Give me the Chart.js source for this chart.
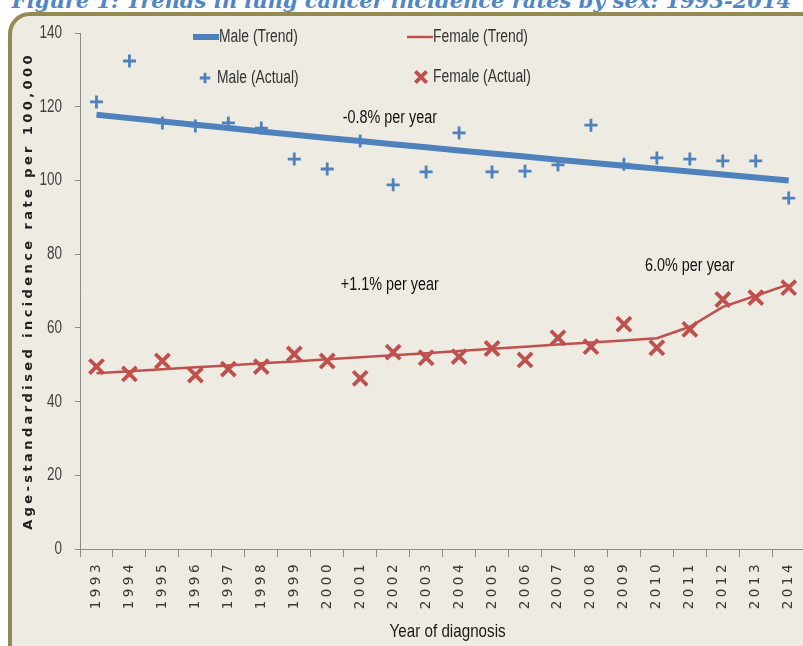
<!DOCTYPE html>
<html>
<head>
<meta charset="utf-8">
<script src="https://cdn.jsdelivr.net/npm/chart.js@4.4.0/dist/chart.umd.min.js"></script>
<style>
  html, body { margin: 0; padding: 0; background: #fff; overflow: hidden; width: 803px; height: 646px; }
  #panel { position: absolute; left: 8px; top: 12px; width: 840px; height: 660px; box-sizing: border-box;
           border: 4px solid #948A54; border-radius: 22px; background: #EEEBE2; }
  #title { position: absolute; left: 0; top: -10px; width: 803px; text-align: center; white-space: nowrap;
           font: italic bold 21px "DejaVu Serif"; line-height: 21px; color: #4F86C6; }
  #wrap { position: absolute; left: 0; top: 0; width: 819px; height: 646px; }
</style>
</head>
<body>
<div id="panel"></div>
<div id="title">Figure 1: Trends in lung cancer incidence rates by sex: 1993-2014</div>
<div id="wrap"><canvas id="chart"></canvas></div>
<script>
const years = ['1993', '1994', '1995', '1996', '1997', '1998', '1999', '2000', '2001', '2002', '2003',
               '2004', '2005', '2006', '2007', '2008', '2009', '2010', '2011', '2012', '2013', '2014'];

const maleActual = [121.3, 132.4, 115.6, 114.8, 115.6, 114.2, 105.8, 103.1, 110.7, 98.8, 102.3,
                    112.9, 102.3, 102.5, 104.2, 115.0, 104.4, 106.1, 105.8, 105.3, 105.3, 95.2];
const maleTrend = [117.8, 116.9, 116.0, 115.1, 114.2, 113.3, 112.4, 111.5, 110.7, 109.8, 109.0,
                   108.1, 107.3, 106.5, 105.6, 104.8, 104.0, 103.2, 102.4, 101.6, 100.8, 100.0];

const femaleActual = [49.5, 47.5, 51.0, 47.2, 48.8, 49.5, 52.9, 51.0, 46.3, 53.4, 51.9,
                      52.2, 54.4, 51.3, 57.3, 54.9, 61.0, 54.6, 59.6, 67.7, 68.2, 70.9];
const femaleTrend = [47.7, 48.2, 48.8, 49.3, 49.8, 50.4, 50.9, 51.5, 52.0, 52.6, 53.1,
                     53.7, 54.3, 54.9, 55.5, 56.0, 56.6, 57.2, 60.3, 65.7, 68.7, 71.8];

const yTicks = [0, 20, 40, 60, 80, 100, 120, 140];

// trend labels: text, position in years (fractional), value
const notes = [
  { text: '-0.8% per year', year: 2001.9, value: 117 },
  { text: '+1.1% per year', year: 2001.9, value: 71.6 },
  { text: '6.0% per year', year: 2011, value: 76.8 }
];

const BLUE = '#4F81BD';
const RED = '#C0504D';

// the original uses a tall narrow face; squeeze Liberation Sans sideways
function squeezed(ctx, text, x, y, size, sx, align) {
  ctx.save();
  ctx.translate(x, y);
  ctx.scale(sx, 1);
  ctx.font = size + 'px "Liberation Sans"';
  ctx.textAlign = align;
  ctx.textBaseline = 'middle';
  ctx.fillText(text, 0, 0);
  ctx.restore();
}

// x labels get letter spacing (drawn after the datasets because ticks.z = 1)
const spacing = {
  id: 'spacing',
  afterDatasetsDraw(chart) { chart.ctx.letterSpacing = '3.5px'; },
  afterDraw(chart) { chart.ctx.letterSpacing = '0px'; }
};

const extras = {
  id: 'extras',
  afterDraw(chart) {
    const ctx = chart.ctx;
    const x = chart.scales.x, y = chart.scales.y;
    const area = chart.chartArea;
    ctx.save();
    ctx.letterSpacing = '0px';

    // y axis title
    ctx.save();
    ctx.translate(29, (area.top + area.bottom) / 2);
    ctx.rotate(-Math.PI / 2);
    ctx.font = 'bold 13px "DejaVu Sans"';
    ctx.letterSpacing = '3.4px';
    ctx.fillStyle = '#222';
    ctx.textAlign = 'center';
    ctx.textBaseline = 'middle';
    ctx.fillText('Age-standardised incidence rate per 100,000', 0, 0);
    ctx.restore();

    // y tick labels
    ctx.fillStyle = '#404040';
    yTicks.forEach(v => squeezed(ctx, String(v), area.left - 18, y.getPixelForValue(v), 18, 0.75, 'right'));

    // x axis title
    ctx.fillStyle = '#1a1a1a';
    squeezed(ctx, 'Year of diagnosis', (area.left + area.right) / 2 + 5, 632, 19, 0.8, 'center');

    // trend notes
    ctx.fillStyle = '#111';
    notes.forEach(n => {
      squeezed(ctx, n.text, x.getPixelForValue(n.year - 1993), y.getPixelForValue(n.value), 18, 0.8, 'center');
    });

    // legend, 2 x 2
    const ds = chart.data.datasets;
    const lineItem = (d, x0, yy) => {
      ctx.save();
      ctx.strokeStyle = d.borderColor;
      ctx.lineWidth = d.borderWidth;
      ctx.beginPath();
      ctx.moveTo(x0, yy);
      ctx.lineTo(x0 + 26, yy);
      ctx.stroke();
      ctx.restore();
      ctx.fillStyle = '#333';
      squeezed(ctx, d.label, x0 + 26, yy, 18, 0.77, 'left');
    };
    const pointItem = (d, x0, yy) => {
      ctx.save();
      ctx.strokeStyle = d.borderColor;
      ctx.fillStyle = d.borderColor;
      ctx.lineWidth = d.borderWidth;
      Chart.helpers.drawPoint(ctx, {
        pointStyle: d.pointStyle, radius: d.pointRadius * 0.8, borderWidth: d.borderWidth, rotation: 0
      }, x0, yy);
      ctx.restore();
      ctx.fillStyle = '#333';
      squeezed(ctx, d.label, x0 + 12, yy, 18, 0.77, 'left');
    };
    lineItem(ds[0], 193, 37);
    lineItem(ds[1], 407, 37);
    pointItem(ds[2], 205, 78);
    pointItem(ds[3], 421, 77);

    ctx.restore();
  }
};

new Chart(document.getElementById('chart'), {
  type: 'line',
  data: {
    labels: years,
    datasets: [
      { label: 'Male (Trend)', data: maleTrend, borderColor: BLUE, backgroundColor: BLUE,
        borderWidth: 6, pointRadius: 0, tension: 0, order: 1 },
      { label: 'Female (Trend)', data: femaleTrend, borderColor: RED, backgroundColor: RED,
        borderWidth: 2.5, pointRadius: 0, tension: 0, order: 1 },
      { label: 'Male (Actual)', data: maleActual, borderColor: BLUE, backgroundColor: BLUE,
        showLine: false, pointStyle: 'cross', pointRadius: 6.5, borderWidth: 2.8, order: 0 },
      { label: 'Female (Actual)', data: femaleActual, borderColor: RED, backgroundColor: RED,
        showLine: false, pointStyle: 'crossRot', pointRadius: 10, borderWidth: 3.8, order: 0 }
    ]
  },
  options: {
    responsive: true,
    maintainAspectRatio: false,
    animation: false,
    layout: { padding: { top: 33, left: 0, right: 1, bottom: 0 } },
    plugins: {
      legend: { display: false },
      tooltip: { enabled: false }
    },
    scales: {
      x: {
        type: 'category',
        offset: true,
        grid: { offset: true, drawOnChartArea: false, tickLength: 8, color: '#8C8C8C' },
        border: { color: '#8C8C8C' },
        ticks: {
          autoSkip: false, minRotation: 90, maxRotation: 90, padding: 4, z: 1,
          color: '#3a3a3a', font: { family: '"DejaVu Sans"', size: 13.5 }
        },
        afterFit(scale) {
          scale.height = 97;
          scale.paddingLeft = 0;
          scale.paddingRight = 0;
        }
      },
      y: {
        min: 0,
        max: 140,
        afterBuildTicks(scale) { scale.ticks = yTicks.map(v => ({ value: v })); },
        grid: { drawOnChartArea: false, tickLength: 5, color: '#8C8C8C' },
        border: { color: '#8C8C8C' },
        ticks: { display: false },
        afterFit(scale) { scale.width = 80; }
      }
    }
  },
  plugins: [spacing, extras]
});
</script>
</body>
</html>
